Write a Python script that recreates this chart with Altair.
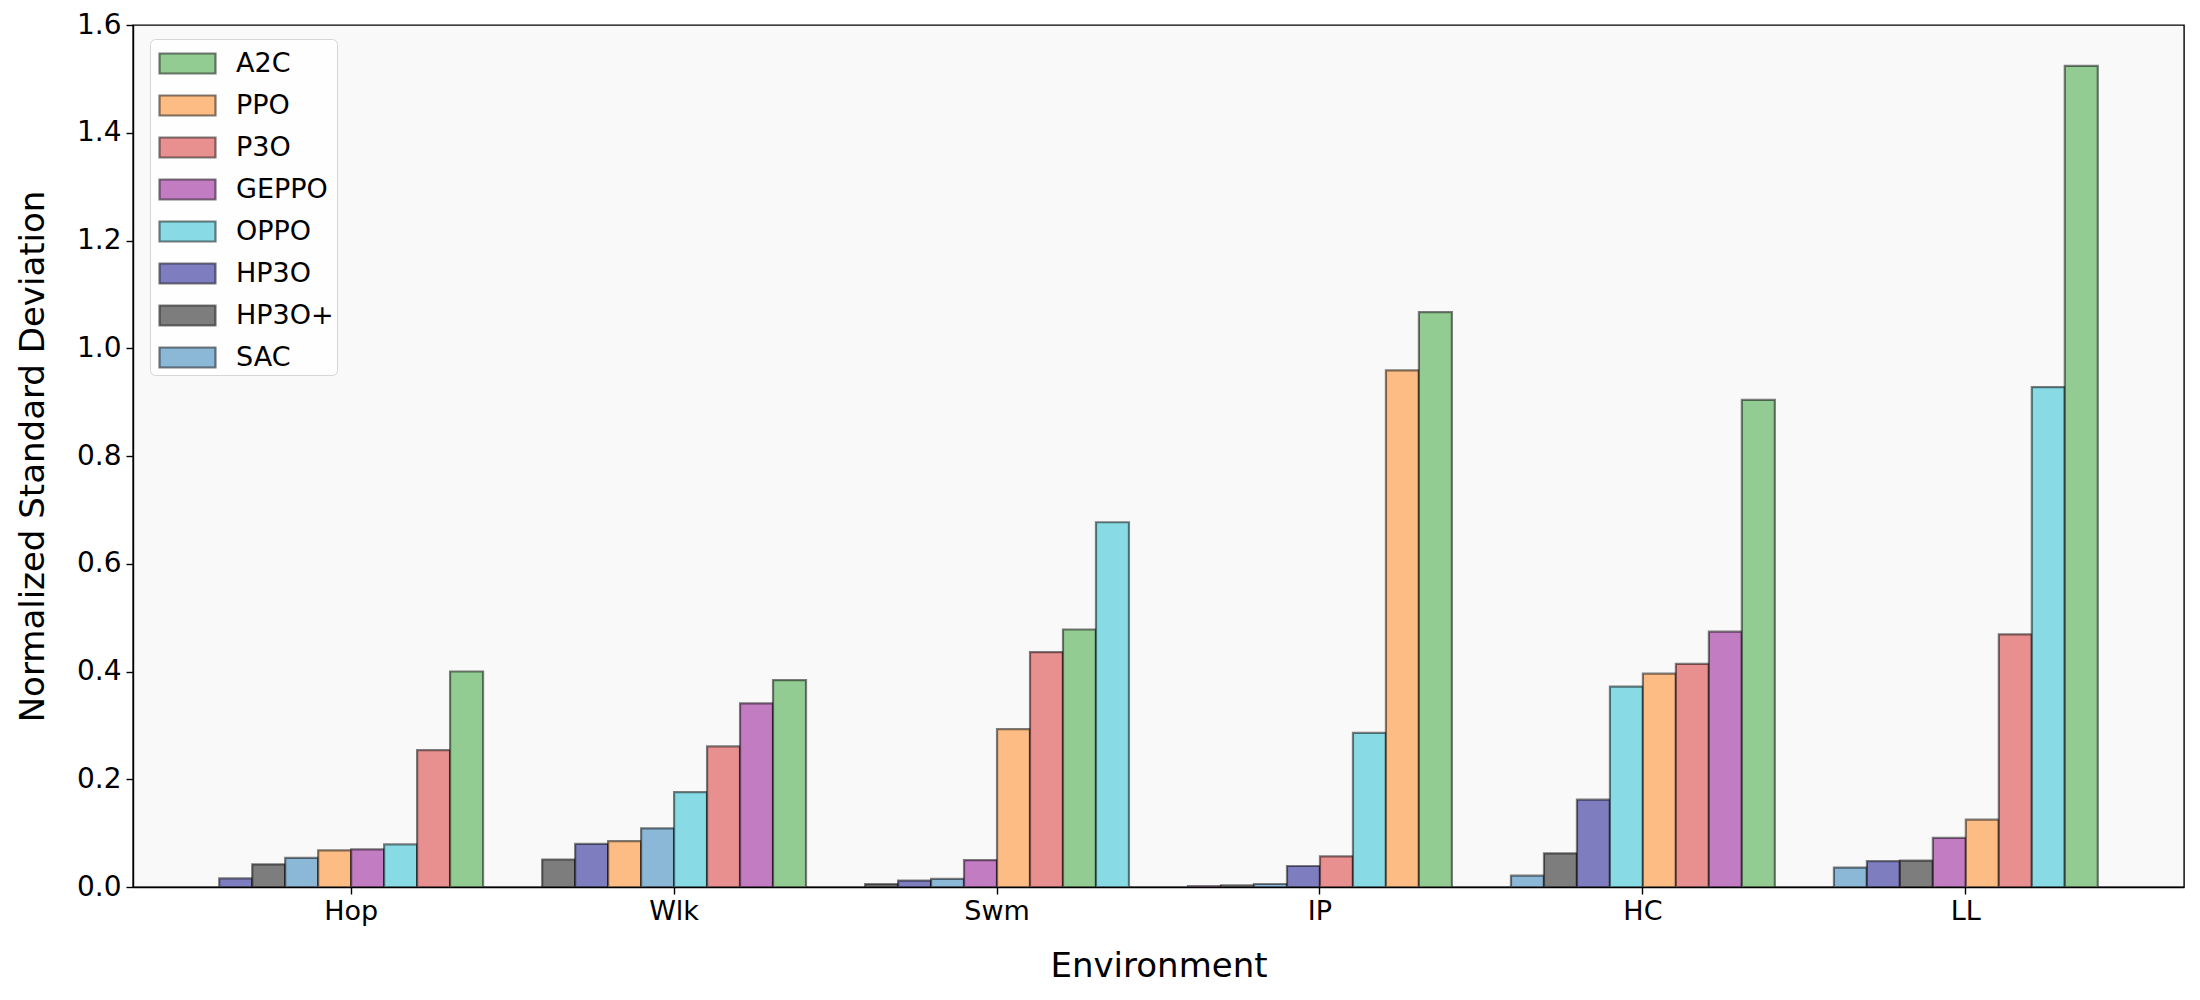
import altair as alt
import pandas as pd

envs = ["Hop", "Wlk", "Swm", "IP", "HC", "LL"]
algos = ["A2C", "PPO", "P3O", "GEPPO", "OPPO", "HP3O", "HP3O+", "SAC"]
colors = ["#93cc93", "#fcbc84", "#e89090", "#c27dc2", "#88dbe4", "#7d7dc0", "#7d7d7d", "#8cb8d8"]

a2c = [0.400, 0.384, 0.478, 1.067, 0.904, 1.524]
ppo = [0.068, 0.085, 0.293, 0.959, 0.396, 0.125]
p3o = [0.254, 0.261, 0.436, 0.057, 0.414, 0.469]
geppo = [0.070, 0.341, 0.050, 0.0015, 0.474, 0.091]
oppo = [0.079, 0.176, 0.677, 0.286, 0.372, 0.928]
hp3o = [0.016, 0.080, 0.012, 0.039, 0.162, 0.048]
hp3o_plus = [0.042, 0.051, 0.0055, 0.003, 0.0625, 0.049]
sac = [0.054, 0.109, 0.015, 0.0056, 0.021, 0.036]

series = [a2c, ppo, p3o, geppo, oppo, hp3o, hp3o_plus, sac]
y_ticks = [0.0, 0.2, 0.4, 0.6, 0.8, 1.0, 1.2, 1.4, 1.6]

rows = []
for algo, vals in zip(algos, series):
    for env, v in zip(envs, vals):
        rows.append({"Environment": env, "Algorithm": algo, "value": v,
                     "algo_idx": algos.index(algo)})
df = pd.DataFrame(rows)
df = df.sort_values(["Environment", "value", "algo_idx"])
df["rank"] = df.groupby("Environment").cumcount()

FONT = "DejaVu Sans"

chart = alt.Chart(df).mark_bar(
    stroke="black", strokeOpacity=0.5, strokeWidth=2.2
).encode(
    x=alt.X("Environment:N", sort=envs,
            scale=alt.Scale(paddingInner=0.183, paddingOuter=0.267),
            axis=alt.Axis(title="Environment", labelAngle=0, labelFontSize=27,
                          titleFontSize=34, titlePadding=25, labelPadding=4)),
    xOffset=alt.XOffset("rank:O", scale=alt.Scale(paddingInner=0, paddingOuter=0)),
    y=alt.Y("value:Q", scale=alt.Scale(domain=[0, 1.6], nice=False),
            axis=alt.Axis(title="Normalized Standard Deviation", values=y_ticks,
                          format=".1f", labelFontSize=28, titleFontSize=34,
                          titlePadding=26, labelPadding=5)),
    color=alt.Color("Algorithm:N", sort=algos,
                    scale=alt.Scale(domain=algos, range=colors),
                    legend=alt.Legend(
                        title=None, orient="none", legendX=17, legendY=14,
                        symbolType="M-1.4,-0.5H1.4V0.5H-1.4Z", symbolSize=1600,
                        symbolStrokeColor="rgba(0,0,0,0.5)", symbolStrokeWidth=2.2,
                        symbolOpacity=1, symbolOffset=13,
                        labelOffset=27, labelFontSize=27, labelFont=FONT,
                        labelColor="black", rowPadding=6, padding=3,
                        fillColor="#fefefe", strokeColor="#d6d6d6",
                        cornerRadius=5)),
).properties(
    width=2051, height=862,
    background="white",
    autosize=alt.AutoSizeParams(type="none"),
    padding={"left": 125, "top": 17, "right": 8, "bottom": 105},
).configure_view(
    fill="#f9f9f9", stroke="black", strokeWidth=1.4
).configure_axis(
    labelFont=FONT, titleFont=FONT, labelColor="black", titleColor="black",
    titleFontWeight="normal", tickColor="black", domainColor="black",
    tickSize=7, tickWidth=1.4, domainWidth=1.4, grid=False
)

chart.save("out.html", embed_options={"renderer": "svg", "actions": False})
